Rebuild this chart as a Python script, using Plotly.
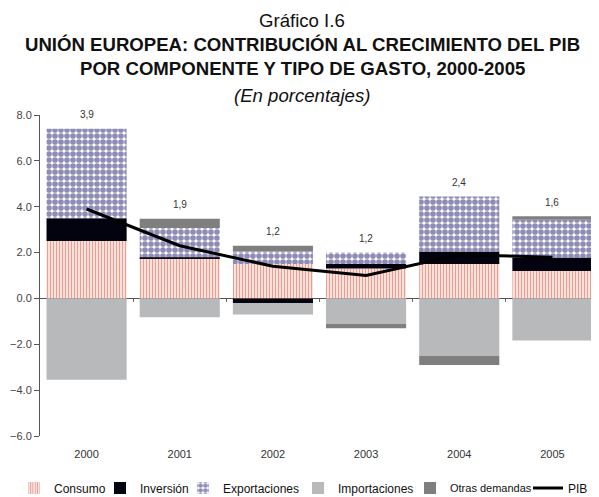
import plotly.graph_objects as go

years = ["2000", "2001", "2002", "2003", "2004", "2005"]
consumo = [2.5, 1.75, 1.5, 1.3, 1.5, 1.2]
inversion = [1.0, 0.05, -0.2, 0.2, 0.55, 0.58]
exportaciones = [3.9, 1.27, 0.55, 0.5, 2.4, 1.65]
importaciones = [-3.55, -0.82, -0.5, -1.1, -2.5, -1.83]
otras = [0.0, 0.4, 0.25, -0.2, -0.4, 0.15]
pib = [3.9, 2.3, 1.4, 1.0, 1.9, 1.8]
pib_labels = ["3,9", "1,9", "1,2", "1,2", "2,4", "1,6"]
y_ticks = [-6, -4, -2, 0, 2, 4, 6, 8]

FONT = "Liberation Sans, Arial, sans-serif"
# the page body adds an 8px offset; compensate so the screen layout matches
OFF = 8
W, H = 599 - OFF, 497 - OFF
ML, MT = 40 - OFF, 115 - OFF
PLOT_W, PLOT_H = 559, 321
MR = W - ML - PLOT_W
MB = H - MT - PLOT_H

fig = go.Figure()

fig.add_trace(go.Bar(
    x=years, y=consumo, name="Consumo", legend="legend",
    marker=dict(color="#fbefe8", line=dict(width=0),
                pattern=dict(shape="|", fgcolor="#d4503f", bgcolor="#fbefe8",
                             size=3, solidity=0.45))))
fig.add_trace(go.Bar(
    x=years, y=inversion, name="Inversión", legend="legend2",
    marker=dict(color="#03030f", line=dict(width=0))))
fig.add_trace(go.Bar(
    x=years, y=exportaciones, name="Exportaciones", legend="legend3",
    marker=dict(color="#ffffff", line=dict(width=0),
                pattern=dict(shape=".", fgcolor="#1d1870", bgcolor="#ffffff",
                             size=6, solidity=0.7))))
fig.add_trace(go.Bar(
    x=years, y=importaciones, name="Importaciones", legend="legend4",
    marker=dict(color="#b7b9bb", line=dict(width=0))))
fig.add_trace(go.Bar(
    x=years, y=otras, name="Otras demandas", legend="legend5",
    marker=dict(color="#7f7f7f", line=dict(width=0))))
fig.add_trace(go.Scatter(
    x=years, y=pib, name="PIB", mode="lines", legend="legend6",
    line=dict(color="#000000", width=3)))

# helper (invisible) trace carrying the linear overlay axis for boundary ticks
idx = list(range(len(years)))
fig.add_trace(go.Scatter(x=idx, y=[0] * len(idx), xaxis="x2", mode="markers",
                         marker=dict(opacity=0), showlegend=False,
                         hoverinfo="skip"))

ymin, ymax = -6, 8
pos_tops = [sum(v for v in vals if v > 0)
            for vals in zip(consumo, inversion, exportaciones, importaciones, otras)]
for i, (top, lab) in enumerate(zip(pos_tops, pib_labels)):
    fig.add_annotation(x=i, y=top, text=lab, showarrow=False, yshift=14,
                       yanchor="middle",
                       font=dict(family=FONT, size=10, color="#333333"))

# screen-pixel helpers (relative to the plot area, which is offset-invariant)
PLOT_BOTTOM_SCREEN = 436
PLOT_LEFT_SCREEN = 40
def py(p):
    return (PLOT_BOTTOM_SCREEN - p) / PLOT_H
cx = (302 - PLOT_LEFT_SCREEN) / PLOT_W

titles = [
    ("Gráfico I.6", 21),
    ("<b>UNIÓN EUROPEA: CONTRIBUCIÓN AL CRECIMIENTO DEL PIB</b>", 45),
    ("<b>POR COMPONENTE Y TIPO DE GASTO, 2000-2005</b>", 69),
    ("<i>(En porcentajes)</i>", 95),
]
for txt, ypix in titles:
    fig.add_annotation(xref="paper", yref="paper", x=cx, y=py(ypix), text=txt,
                       showarrow=False, xanchor="center", yanchor="middle",
                       font=dict(family=FONT, size=18.6, color="#111"))

legend_text_x = [54, 140, 223, 338, 450, 568]
legend_sizes = [12, 12, 12, 12, 11, 12]
legend_keys = ["legend", "legend2", "legend3", "legend4", "legend5", "legend6"]
legends = {}
for key, tx, fs in zip(legend_keys, legend_text_x, legend_sizes):
    legends[key] = dict(orientation="h", xref="container", yref="container",
                        x=(tx - 48) / W, y=1 - 480 / H, xanchor="left",
                        yanchor="middle", bgcolor="rgba(0,0,0,0)",
                        font=dict(family=FONT, size=fs, color="#111"))

fig.update_layout(
    width=W, height=H,
    margin=dict(l=ML, r=MR, t=MT, b=MB, autoexpand=False),
    paper_bgcolor="white", plot_bgcolor="white",
    barmode="relative", bargap=0.14,
    font=dict(family=FONT, size=11, color="#333"),
    showlegend=True,
    xaxis=dict(type="category", range=[-0.5, len(years) - 0.5],
               showline=False, ticks="", showgrid=False, automargin=False,
               zeroline=False, ticklabelstandoff=10,
               tickfont=dict(family=FONT, size=11, color="#333")),
    xaxis2=dict(overlaying="x", anchor="free", automargin=False,
                position=(0 - ymin) / (ymax - ymin), side="bottom",
                range=[-0.5, len(years) - 0.5],
                tickvals=[i + 0.5 for i in idx[:-1]],
                showticklabels=False, ticks="outside",
                ticklen=3, tickcolor="#666", showline=False, showgrid=False,
                zeroline=False),
    yaxis=dict(range=[ymin, ymax], tickvals=y_ticks, tickformat=".1f",
               showline=True, linecolor="#555", linewidth=1, automargin=False,
               ticks="outside", ticklen=5, tickcolor="#555",
               showgrid=False, zeroline=True, zerolinecolor="#555",
               zerolinewidth=1, ticklabelstandoff=0,
               tickfont=dict(family=FONT, size=11, color="#444")),
    **legends,
)

fig.write_html("out.html")
